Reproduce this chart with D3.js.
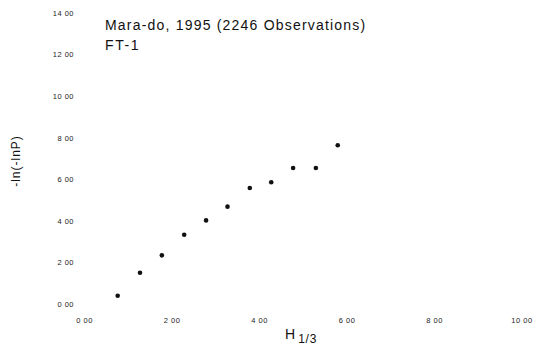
<!DOCTYPE html>
<html>
<head>
<meta charset="utf-8">
<script src="https://cdn.jsdelivr.net/npm/d3@7"></script>
<style>
  body { margin: 0; background: #fff; }
  svg { display: block; font-family: Arial, "Liberation Sans", sans-serif; }
</style>
</head>
<body>
<svg id="chart" width="538" height="347"></svg>
<script>
// Wave height H1/3 vs reduced variate, FT-1 fit
var hValues = [0.77, 1.28, 1.78, 2.29, 2.79, 3.28, 3.79, 4.28, 4.78, 5.30, 5.80];
var lnValues = [0.40, 1.50, 2.34, 3.33, 4.02, 4.68, 5.58, 5.85, 6.54, 6.54, 7.63];
var xTicks = [0, 2, 4, 6, 8, 10];
var yTicks = [0, 2, 4, 6, 8, 10, 12, 14];

var svg = d3.select("#chart");

var x = d3.scaleLinear().domain([0, 10]).range([84, 521.5]);
var y = d3.scaleLinear().domain([0, 14]).range([304, 12.8]);

function fmt(d) { return d.toFixed(2).replace(".", " "); }

var xAxis = svg.append("g")
  .attr("transform", "translate(0,315)")
  .call(d3.axisBottom(x).tickValues(xTicks).tickSize(0).tickPadding(3).tickFormat(fmt));
xAxis.select(".domain").remove();

var yAxis = svg.append("g")
  .attr("transform", "translate(77,0)")
  .call(d3.axisLeft(y).tickValues(yTicks).tickSize(0).tickPadding(3).tickFormat(fmt));
yAxis.select(".domain").remove();

svg.selectAll(".tick text")
  .attr("font-family", "Arial, 'Liberation Sans', sans-serif")
  .attr("font-size", 7.5)
  .attr("letter-spacing", 0.5)
  .attr("fill", "#222");

// points
svg.append("g").selectAll("circle")
  .data(hValues)
  .enter().append("circle")
  .attr("cx", function (d) { return x(d); })
  .attr("cy", function (d, i) { return y(lnValues[i]); })
  .attr("r", 2.3)
  .attr("fill", "#111");

// titles
svg.append("text")
  .attr("x", 105).attr("y", 30)
  .attr("font-size", 14).attr("letter-spacing", 1.2)
  .attr("fill", "#111")
  .text("Mara-do, 1995 (2246 Observations)");
svg.append("text")
  .attr("x", 105).attr("y", 50)
  .attr("font-size", 14).attr("letter-spacing", 1.6)
  .attr("fill", "#111")
  .text("FT-1");

// y axis title
svg.append("text")
  .attr("transform", "translate(20,161) rotate(-90)")
  .attr("text-anchor", "middle")
  .attr("font-size", 12).attr("letter-spacing", 1)
  .attr("fill", "#111")
  .text("-ln(-lnP)");

// x axis title with subscript
var xt = svg.append("text")
  .attr("x", 285).attr("y", 339)
  .attr("font-size", 14)
  .attr("fill", "#111");
xt.append("tspan").text("H");
xt.append("tspan").attr("dx", 3).attr("dy", 4).attr("font-size", 12).attr("letter-spacing", 0.8).text("1/3");
</script>
</body>
</html>
